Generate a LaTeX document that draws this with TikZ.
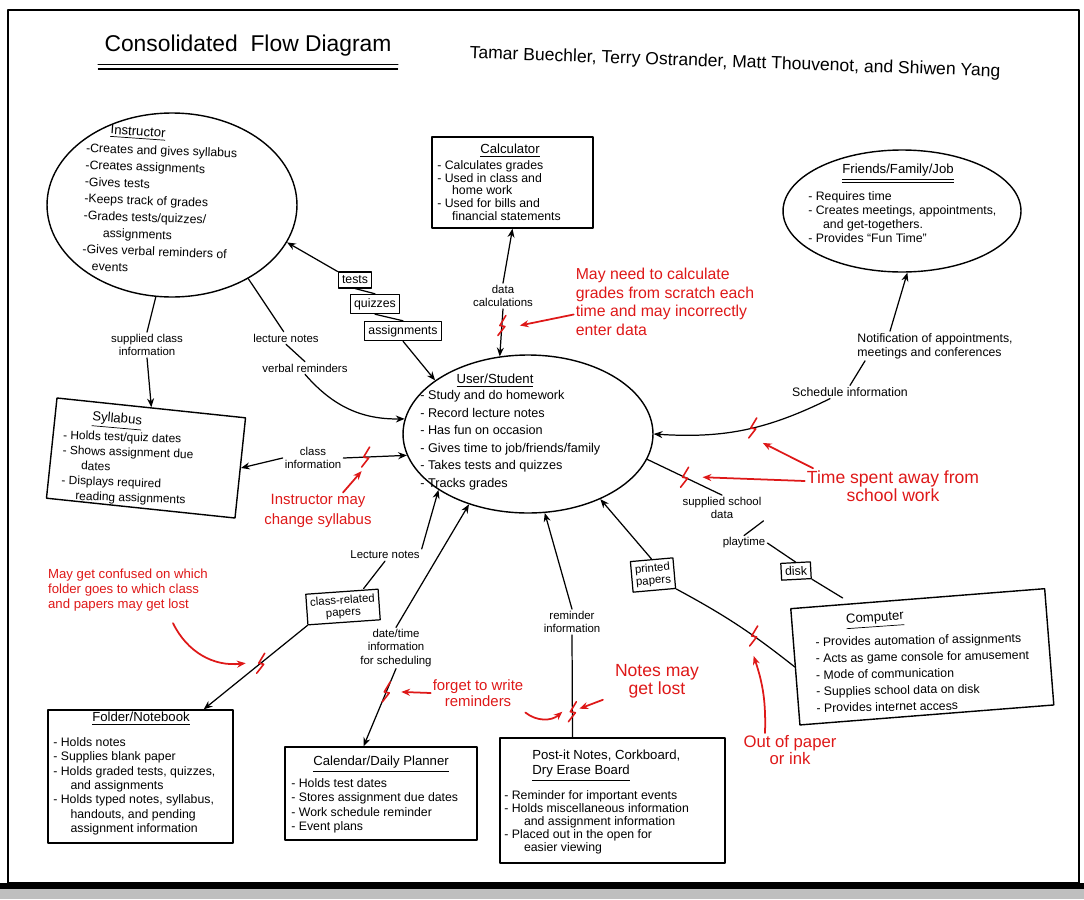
\documentclass[tikz,border=0pt]{standalone}
\usepackage{fontspec}
\setmainfont{Liberation Sans}
\usetikzlibrary{shapes.geometric,fit,arrows.meta}

\definecolor{myred}{RGB}{222,24,24}
\newcommand{\hand}[2]{\fontsize{#1}{#2}\selectfont}

\begin{document}
\begin{tikzpicture}[>={Stealth[length=5pt,width=4pt]}, x=0.02cm, y=-0.02cm,
    line join=round, line cap=round,
    blk/.style={draw, line width=0.8pt, inner sep=0pt},
    oval/.style={draw, ellipse, line width=0.8pt, inner sep=0pt},
    ttl/.style={font=\hand{7.5}{9}, inner sep=1pt},
    lst/.style={align=left, anchor=north west, inner sep=0pt},
    tag/.style={draw, line width=0.7pt, font=\hand{7}{7.5}, align=center, inner sep=2.2pt},
    lbl/.style={font=\hand{6.5}{7.5}, align=center, inner sep=1pt},
    flow/.style={line width=0.7pt},
    warn/.style={text=myred, align=center, inner sep=1pt},
    warnto/.style={->, draw=myred, line width=1pt},
    bolt/.pic={\draw[myred, line width=0.9pt] (4,-10) -- (-2,0) -- (3,1) -- (-4,10);}]

    % page and frame
    \useasboundingbox (0,0) rectangle (1084,899);
    \draw[line width=0.6pt] (8,10) rectangle (1079,883);
    \fill[black] (0,883) rectangle (1084,889);
    \fill[black!25] (0,889) rectangle (1084,899);

    % heading
    \node[font=\hand{13}{15}] (hdr) at (248,46) {Consolidated\ \ Flow Diagram};
    \draw[line width=1pt] ([yshift=-1pt]hdr.south west) -- ([yshift=-1pt]hdr.south east);
    \draw[line width=0.6pt] ([yshift=-3.5pt]hdr.south west) -- ([yshift=-3.5pt]hdr.south east);
    \node[font=\hand{10}{12}, rotate=-2] (who) at (735,63) {Tamar Buechler, Terry Ostrander, Matt Thouvenot, and Shiwen Yang};

    % Instructor
    \node[oval, minimum width=5cm, minimum height=3.68cm] (instr) at (172,205) {};
    \node[ttl, rotate=-4] (instrT) at (138,133) {\underline{Instructor}};
    \node[lst, font=\hand{7}{9.6}, rotate=-2] (instrL) at (86,143) {-Creates and gives syllabus\\
        -Creates assignments\\
        -Gives tests\\
        -Keeps track of grades\\
        -Grades tests/quizzes/\\
        \hspace*{1.6em}assignments\\
        -Gives verbal reminders of\\
        \hspace*{0.8em}events};

    % Calculator
    \node[blk, fit={(432,137)(593,228)}] (calc) {};
    \node[ttl] (calcT) at (510,151) {\underline{Calculator}};
    \node[lst, font=\hand{7}{7.3}] (calcL) at (437,160) {- Calculates grades\\
        - Used in class and\\
        \hspace*{1.2em}home work\\
        - Used for bills and\\
        \hspace*{1.2em}financial statements};

    % Friends/Family/Job
    \node[oval, minimum width=4.76cm, minimum height=2.44cm] (friends) at (902,211) {};
    \node[ttl] (friendsT) at (898,174) {\underline{\underline{Friends/Family/Job}}};
    \node[lst, font=\hand{7}{8}] (friendsL) at (808,191) {- Requires time\\
        - Creates meetings, appointments,\\
        \hspace*{1.2em}and get-togethers.\\
        - Provides “Fun Time”};

    % User/Student
    \node[oval, minimum width=5cm, minimum height=3.16cm] (user) at (528,434) {};
    \node[ttl] (userT) at (495,381) {\underline{User/Student}};
    \node[lst, font=\hand{7.2}{10}] (userL) at (420,390) {- Study and do homework\\
        - Record lecture notes\\
        - Has fun on occasion\\
        - Gives time to job/friends/family\\
        - Takes tests and quizzes\\
        - Tracks grades};

    % Syllabus
    \node[blk, rotate fit=-6, fit={(57,398)(237,417)(235,518)(53,497)}] (syll) {};
    \node[ttl, rotate=-5] (syllT) at (117,421) {\underline{Syllabus}};
    \node[lst, font=\hand{6.8}{8.6}, rotate=-2] (syllL) at (63,430) {- Holds test/quiz dates\\
        - Shows assignment due\\
        \hspace*{1.6em}dates\\
        - Displays required\\
        \hspace*{1.2em}reading assignments};

    % Folder/Notebook
    \node[blk, fit={(48,710)(233,843)}] (folder) {};
    \node[ttl] (folderT) at (141,719) {\underline{Folder/Notebook}};
    \node[lst, font=\hand{7}{8.2}] (folderL) at (53,737) {- Holds notes\\
        - Supplies blank paper\\
        - Holds graded tests, quizzes,\\
        \hspace*{1.4em}and assignments\\
        - Holds typed notes, syllabus,\\
        \hspace*{1.4em}handouts, and pending\\
        \hspace*{1.4em}assignment information};

    % Calendar/Daily Planner
    \node[blk, fit={(285,747)(477,840)}] (cal) {};
    \node[ttl] (calT) at (381,764) {\underline{Calendar/Daily Planner}};
    \node[lst, font=\hand{7}{8.2}] (calL) at (291,778) {- Holds test dates\\
        - Stores assignment due dates\\
        - Work schedule reminder\\
        - Event plans};

    % Post-it notes
    \node[blk, fit={(500,738)(725,863)}] (postit) {};
    \node[lst, font=\hand{7.5}{8.5}] (postitT) at (532,750) {Post-it Notes, Corkboard,\\\underline{Dry Erase Board}};
    \node[lst, font=\hand{7}{7.4}] (postitL) at (504,790) {- Reminder for important events\\
        - Holds miscellaneous information\\
        \hspace*{1.6em}and assignment information\\
        - Placed out in the open for\\
        \hspace*{1.6em}easier viewing};

    % Computer
    \node[blk, rotate fit=4.5, fit={(800,608)(1045,592)(1040,703)(800,725)}] (comp) {};
    \node[ttl, rotate=4] (compT) at (875,620) {\underline{Computer}};
    \node[lst, font=\hand{7}{9.4}, rotate=1] (compL) at (815,637) {- Provides automation of assignments\\
        - Acts as game console for amusement\\
        - Mode of communication\\
        - Supplies school data on disk\\
        - Provides internet access};

    % small boxes
    \node[tag] (tests) at (355,280) {tests};
    \node[tag] (quiz) at (375,304) {quizzes};
    \node[tag] (assign) at (403,331) {assignments};
    \node[tag, font=\hand{6.5}{7}, rotate=4] (crp) at (343,607) {class-related\\papers};
    \node[tag, font=\hand{6.5}{7}, rotate=5] (printed) at (653,575) {printed\\papers};
    \node[tag, rotate=3] (disk) at (796,571) {disk};

    % flow labels
    \node[lbl] (lSup) at (147,345) {supplied class\\information};
    \node[lbl] (lLect) at (286,338) {lecture notes};
    \node[lbl] (lVerb) at (305,368) {verbal reminders};
    \node[lbl] (lData) at (503,296) {data\\calculations};
    \node[lbl, font=\hand{7}{8}, align=left] (lNotif) at (935,346) {Notification of appointments,\\meetings and conferences};
    \node[lbl, font=\hand{7}{8}] (lSched) at (850,392) {Schedule information};
    \node[lbl] (lClass) at (313,458) {class\\information};
    \node[lbl] (lSupS) at (722,508) {supplied school\\data};
    \node[lbl] (lPlay) at (744,543) {playtime};
    \node[lbl] (lLecN) at (385,555) {Lecture notes};
    \node[lbl] (lDate) at (396,648) {date/time\\information\\for scheduling};
    \node[lbl] (lRem) at (572,622) {reminder\\information};

    % instructor flows
    \draw[flow] (instr.-100) -- (lSup.north);
    \draw[flow,->] (lSup.south) -- (syll.north);
    \draw[flow] (instr.-44) -- (lLect.110);
    \draw[flow] (lLect.south) -- (lVerb.north);
    \draw[flow,->] (lVerb.south) to[bend right=25] (user.173);
    \draw[flow,->] (tests.north west) -- (instr.-18);
    \draw[flow] (tests.south) -- (quiz.north);
    \draw[flow] (quiz.south) -- (assign.north);
    \draw[flow,->] (assign.south) -- (user.150);

    % calculator and friends
    \draw[flow,->] (lData.north) -- (calc.south);
    \draw[flow,->] (lData.south) -- coordinate[pos=0.35] (b1) (user.110);
    \draw[flow,->] ([xshift=-0.9cm]lNotif.north) -- (friends.-85);
    \draw[flow] ([xshift=-1.4cm]lNotif.south) -- (lSched.north);
    \draw[flow,->] ([xshift=-0.4cm]lSched.south) to[bend left=15] coordinate[pos=0.45] (b3) (user.0);

    % syllabus
    \draw[flow,->] (lClass.west) -- (syll.east);
    \draw[flow,->] (lClass.east) -- coordinate[pos=0.35] (b2) (user.-170);

    % computer
    \draw[flow] (user.-12) -- coordinate[pos=0.5] (b4) (lSupS.north);
    \draw[flow] (lSupS.south east) -- (lPlay.north);
    \draw[flow] (lPlay.east) -- (disk.north);
    \draw[flow] (disk.south east) -- ([xshift=-1.5cm]comp.north);
    \draw[flow,->] (printed.north) -- (user.-42);
    \draw[flow] (printed.south east) to[bend left=5] coordinate[pos=0.65] (b8) (comp.west);

    % folder, calendar, post-it
    \draw[flow,->] (lLecN.north east) -- (user.-148);
    \draw[flow] (lLecN.south) -- ([xshift=-0.3cm]crp.north east);
    \draw[flow,->] (crp.south west) -- coordinate[pos=0.45] (b5) ([xshift=-0.6cm]folder.north east);
    \draw[flow,->] (lDate.north) -- (user.-130);
    \draw[flow,->] (lDate.south) -- coordinate[pos=0.3] (b6) ([xshift=-0.35cm]cal.north);
    \draw[flow,->] (lRem.north) -- (user.-78);
    \draw[flow] (lRem.south) -- coordinate[pos=0.75] (b7) ([xshift=-0.8cm]postit.north);

    % problem marks
    \foreach \b in {b1,b2,b3,b4,b5,b6,b7,b8}
        \pic at (\b) {bolt};

    % red notes
    \node[warn, font=\hand{9}{10.5}, align=left] (nCalc) at (665,302) {May need to calculate\\grades from scratch each\\time and may incorrectly\\enter data};
    \node[warn, font=\hand{8.5}{11}] (nSyll) at (318,511) {Instructor may\\change syllabus};
    \node[warn, font=\hand{10}{10.5}] (nTime) at (893,486) {Time spent away from\\school work};
    \node[warn, font=\hand{7.5}{8.5}, align=left] (nFolder) at (128,590) {May get confused on which\\folder goes to which class\\and papers may get lost};
    \node[warn, font=\hand{8.5}{9}] (nForget) at (478,693) {forget to write\\reminders};
    \node[warn, font=\hand{10}{10}] (nLost) at (657,681) {Notes may\\get lost};
    \node[warn, font=\hand{9.5}{10}] (nPaper) at (790,750) {Out of paper\\or ink};

    \draw[warnto] ([yshift=-0.25cm]nCalc.west) -- ([xshift=0.36cm]b1);
    \draw[warnto] ([xshift=0.5cm]nSyll.north) -- ([shift={(-4,14)}]b2);
    \draw[warnto] ([xshift=-1.6cm]nTime.north) -- ([shift={(10,15)}]b3);
    \draw[warnto] ([yshift=0.1cm]nTime.west) -- ([xshift=0.36cm]b4);
    \draw[warnto] ([shift={(45,10)}]nFolder.south) to[bend right=35] ([xshift=-0.3cm]b5);
    \draw[warnto] (nForget.west) -- ([xshift=0.3cm]b6);
    \draw[warnto] ([yshift=-0.08cm]nForget.south east) to[bend right=40] ([xshift=-0.2cm]b7);
    \draw[warnto] ([xshift=-0.2cm]nLost.south west) -- ([shift={(7,-3)}]b7);
    \draw[warnto] ([xshift=-0.5cm]nPaper.north) to[bend right=10] ([yshift=-0.4cm]b8);
\end{tikzpicture}
\end{document}
